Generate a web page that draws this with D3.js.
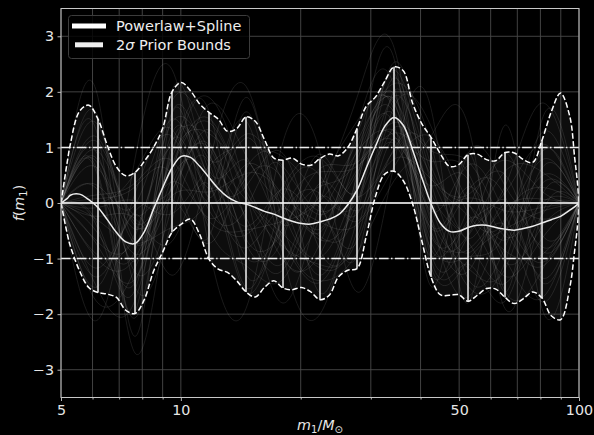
<!DOCTYPE html>
<html>
<head>
<meta charset="utf-8">
<script src="https://cdn.jsdelivr.net/npm/d3@7"></script>
<style>
  html, body { margin: 0; padding: 0; background: #000; }
  svg { display: block; }
  text { font-family: "DejaVu Sans", sans-serif; }
</style>
</head>
<body>
<svg id="chart" width="594" height="435"></svg>
<script>
// ---- data -------------------------------------------------------------
// Spline knots (primary mass, solar masses)
const knots = [5, 6.193, 7.671, 9.501, 11.768, 14.576, 18.054, 22.361, 27.696,
  34.305, 42.49, 52.63, 65.19, 80.74, 100];

// Evaluation grid for summary curves
const massGrid = [5.0, 5.2, 5.275, 5.565, 5.871, 6.193, 6.534, 6.892, 7.272, 7.671,
  8.093, 8.537, 9.007, 9.501, 10.024, 10.574, 11.156, 11.768, 12.415, 13.097,
  13.818, 14.576, 15.378, 16.222, 17.115, 18.054, 19.047, 20.092, 21.199, 22.361,
  23.591, 24.886, 26.256, 27.696, 29.219, 30.823, 32.521, 34.305, 36.192, 38.178,
  40.281, 42.49, 44.827, 47.287, 49.891, 52.63, 55.525, 58.572, 61.798, 65.19,
  68.775, 72.55, 76.546, 80.74, 85.181, 89.856, 94.805, 97.5, 99.0, 100];

// Median of the Powerlaw+Spline perturbation f(m1)
const medianF = [0, 0.09, 0.14, 0.16, 0.06, -0.08, -0.30, -0.53, -0.70, -0.73,
  -0.52, -0.11, 0.28, 0.63, 0.84, 0.82, 0.66, 0.46, 0.26, 0.11,
  0.02, -0.02, -0.08, -0.15, -0.20, -0.27, -0.33, -0.37, -0.38, -0.34,
  -0.29, -0.21, -0.03, 0.23, 0.63, 1.02, 1.38, 1.54, 1.40, 0.96,
  0.46, -0.01, -0.36, -0.51, -0.51, -0.44, -0.40, -0.40, -0.44, -0.47,
  -0.49, -0.46, -0.42, -0.36, -0.30, -0.24, -0.13, -0.07, -0.03, 0];

// 2-sigma prior bounds
const upperF = [0, 0.80, 1.05, 1.65, 1.76, 1.51, 1.04, 0.65, 0.49, 0.55,
  0.75, 1.00, 1.35, 2.00, 2.17, 2.02, 1.78, 1.63, 1.51, 1.29,
  1.34, 1.55, 1.47, 1.14, 0.81, 0.77, 0.81, 0.70, 0.68, 0.80,
  0.88, 0.85, 1.00, 1.34, 1.74, 1.91, 2.19, 2.45, 2.38, 1.80,
  1.43, 1.18, 0.89, 0.66, 0.69, 0.87, 0.88, 0.78, 0.76, 0.91,
  0.90, 0.78, 0.73, 1.13, 1.64, 1.98, 1.56, 0.82, 0.40, 0];

const lowerF = [0, -0.60, -0.77, -1.22, -1.52, -1.61, -1.64, -1.70, -1.93, -1.99,
  -1.74, -1.23, -0.88, -0.53, -0.38, -0.29, -0.57, -1.01, -1.19, -1.25,
  -1.40, -1.60, -1.69, -1.52, -1.40, -1.53, -1.56, -1.52, -1.60, -1.74,
  -1.66, -1.33, -1.21, -1.18, -0.60, 0.12, 0.52, 0.57, 0.40, -0.01,
  -0.68, -1.33, -1.65, -1.66, -1.65, -1.77, -1.66, -1.54, -1.55, -1.70,
  -1.81, -1.72, -1.60, -1.71, -2.03, -2.10, -1.52, -0.86, -0.45, 0];

// Individual spline draws: values at the interior knots (ends pinned to 0)
const draws = [
  [0.86, -1.05, 1.13, 0.26, 1.17, -0.15, -0.98, 0.48, 1.96, -0.39, 0.29, -0.60, 0.00],
  [-1.17, -0.15, 0.25, 1.32, -0.34, -1.20, 0.11, -0.33, 0.98, 0.87, -0.64, 0.05, -1.43],
  [0.15, 0.36, 0.76, -0.27, 0.45, 0.43, -0.47, 1.22, 1.68, -0.83, -0.11, 0.77, 0.21],
  [1.56, -1.50, -0.32, 0.72, -1.52, 0.08, 0.49, -0.20, 1.35, 0.12, -1.50, -1.06, 0.92],
  [-0.55, -0.86, 1.83, 1.12, 0.06, -0.73, -1.43, 0.29, 2.39, 0.56, -0.24, -1.32, -0.64],
  [0.62, -0.47, 0.06, -0.73, 0.61, 0.83, -0.02, -0.70, 1.16, -0.14, 0.68, -0.21, -1.07],
  [-1.56, -1.75, 0.95, 0.92, -0.97, -0.44, 0.30, 0.79, 1.82, -1.14, -1.03, -0.47, -0.15],
  [0.31, -0.03, 1.51, 0.06, -0.57, 0.31, 0.81, 0.11, 0.79, 0.43, 0.15, 0.51, -0.86],
  [-0.31, -0.73, -0.44, 0.13, 1.48, -0.91, -0.72, 0.97, 2.15, 1.06, -1.36, -0.80, 0.49],
  [1.17, -0.35, 0.69, 1.52, 0.22, -0.56, -1.17, -0.51, 1.54, -0.58, -0.37, 0.18, 1.06],
  [-0.78, -1.37, 0.44, 0.53, -0.42, 0.25, -0.21, 0.60, 1.12, 0.31, 0.42, -1.58, -1.21],
  [0.00, 0.55, 1.32, -0.46, -1.13, -1.37, 0.24, 1.47, 1.78, -0.26, -0.84, -0.08, 0.07],
  [0.70, -1.24, -0.06, 1.78, 0.85, -0.04, -0.60, -0.08, 2.53, 0.68, -0.04, -0.99, -1.71],
  [-0.94, -0.54, 1.01, -0.13, -0.10, 0.60, -1.62, 0.42, 1.40, -0.96, 0.88, 0.31, -0.29],
  [0.47, -1.95, 2.02, 0.59, 0.77, -0.39, -0.08, -0.95, 2.01, -0.01, -1.17, -1.19, 0.63],
  [-0.24, -0.28, -0.69, 0.33, -1.60, -0.21, 0.56, 0.66, 1.26, 0.49, -0.44, 0.90, -0.57],
  [1.40, -0.67, 0.82, 1.25, 0.38, -1.02, -0.92, 0.85, 1.63, -0.70, -0.97, -0.54, 1.27],
  [-1.33, 0.17, 1.20, 0.00, 0.69, 0.14, -0.34, -0.39, 0.65, 1.19, 0.02, -0.86, -0.93],
  [0.23, -0.92, 0.19, 1.05, -0.73, -0.62, 0.88, 0.23, 2.25, -0.20, -1.69, -0.27, 0.28],
  [-0.47, -1.56, 1.64, 0.79, 1.24, 0.37, -0.66, -0.02, 1.07, -0.45, 0.22, 0.12, -1.35],
  [0.93, -0.22, 0.38, -0.33, -0.49, -0.33, 0.04, 1.10, 1.87, 0.18, -0.70, -1.45, -0.22],
  [-1.80, -1.18, 0.63, 1.45, 0.14, -0.79, -1.11, -0.64, 1.73, 1.38, -0.18, -0.34, 0.78],
  [-0.08, 0.04, -0.19, 0.66, 1.01, 0.66, -0.15, 0.54, 1.30, -0.33, -1.23, -0.01, -0.79],
  [0.54, -2.07, 1.07, 0.39, -0.81, -0.10, -0.53, 1.35, 2.10, -1.27, -0.31, -0.67, 0.35],
  [-0.70, -0.60, 1.45, 0.86, -0.26, -1.08, 0.36, -0.14, 0.93, 0.75, 0.55, -1.06, -0.43],
  [1.09, -0.41, 0.13, 0.20, 0.53, 0.02, -1.30, 0.35, 1.59, -0.51, -0.57, 0.57, 0.56],
  [-1.02, -0.99, 0.88, 1.65, -1.28, -0.27, 0.17, 0.04, 1.92, 0.37, -0.90, -0.40, -1.78],
  [0.08, 0.29, 0.50, -0.60, 1.64, -0.68, -0.28, 0.91, 1.21, 0.05, 0.09, -0.14, -0.08],
  [-0.39, -1.43, 1.26, 0.46, 0.30, 0.89, -0.85, -0.27, 2.34, -1.02, -1.10, -1.77, 0.14],
  [0.78, -0.73, 0.31, 0.99, -0.65, -0.50, 0.62, 0.73, 1.45, 0.94, 0.75, -0.47, -1.14],
  [1.90, -2.40, 1.60, 0.10, 1.90, -0.90, -2.00, 0.60, 2.60, -1.50, 0.90, -1.60, 1.50],
  [-2.10, 0.80, 2.40, -0.80, -1.90, 1.10, 0.90, -1.60, 0.70, 1.70, -1.80, 1.40, -1.90],
  [1.20, -2.70, 0.40, 1.90, 0.20, -1.80, 0.00, 1.90, 2.80, -0.90, -0.60, 0.30, 1.80],
  [-1.50, -0.20, -1.30, 0.70, 2.10, -0.40, -1.40, -0.90, 0.40, 1.20, 1.40, -1.90, -0.20]
];

// Axis ticks
const xMajorTicks = [5, 10, 50, 100];
const xMinorTicks = [6, 7, 8, 9, 20, 30, 40, 60, 70, 80, 90];
const yTicks = [-3, -2, -1, 0, 1, 2, 3];
const dashDotLevels = [-1, 1];

const legendLabels = ["Powerlaw+Spline", "2σ Prior Bounds"];

// ---- layout -----------------------------------------------------------
const W = 594, H = 435;
const margin = { left: 61, right: 15, top: 8.5, bottom: 37.5 };
const x0 = margin.left, x1 = W - margin.right;
const y0 = margin.top, y1 = H - margin.bottom;

const x = d3.scaleLog().domain([5, 100]).range([x0, x1]);
const y = d3.scaleLinear().domain([-3.5, 3.5]).range([y1, y0]);

const svg = d3.select("#chart");
svg.append("rect").attr("width", W).attr("height", H).attr("fill", "#000");

svg.append("defs").append("clipPath").attr("id", "plot-clip")
  .append("rect").attr("x", x0).attr("y", y0).attr("width", x1 - x0).attr("height", y1 - y0);

// Grid
const grid = svg.append("g").attr("stroke", "#4a4a4a").attr("stroke-width", 0.9);
[...xMajorTicks, ...xMinorTicks].forEach(t => {
  grid.append("line").attr("x1", x(t)).attr("x2", x(t)).attr("y1", y0).attr("y2", y1);
});
yTicks.forEach(t => {
  grid.append("line").attr("x1", x0).attr("x2", x1).attr("y1", y(t)).attr("y2", y(t));
});

const plot = svg.append("g").attr("clip-path", "url(#plot-clip)");

const gridPts = arr => massGrid.map((m, i) => [m, arr[i]]);
const upperPts = gridPts(upperF);
const lowerPts = gridPts(lowerF);
const medianPts = gridPts(medianF);

// Faint haze between the bounds
const band = d3.area()
  .x((d, i) => x(massGrid[i]))
  .y0((d, i) => y(lowerF[i]))
  .y1((d, i) => y(upperF[i]))
  .curve(d3.curveCatmullRom);
plot.append("path").datum(massGrid).attr("d", band)
  .attr("fill", "#fff").attr("fill-opacity", 0.05);

// Spline draws
const drawLine = d3.line().x(d => x(d[0])).y(d => y(d[1])).curve(d3.curveNatural);
plot.append("g").selectAll("path").data(draws).join("path")
  .attr("d", v => drawLine(knots.map((k, i) => [k, i === 0 || i === knots.length - 1 ? 0 : v[i - 1]])))
  .attr("fill", "none").attr("stroke", "#fff").attr("stroke-opacity", 0.13).attr("stroke-width", 0.8);

// Reference levels
plot.append("line").attr("x1", x0).attr("x2", x1).attr("y1", y(0)).attr("y2", y(0))
  .attr("stroke", "#fff").attr("stroke-width", 1.5);
dashDotLevels.forEach(v => {
  plot.append("line").attr("x1", x0).attr("x2", x1).attr("y1", y(v)).attr("y2", y(v))
    .attr("stroke", "#eee").attr("stroke-width", 1.5)
    .attr("stroke-dasharray", "9.6,2.4,1.5,2.4");
});

// Bounds
const curveLine = d3.line().x(d => x(d[0])).y(d => y(d[1])).curve(d3.curveCatmullRom);
[upperPts, lowerPts].forEach(pts => {
  plot.append("path").attr("d", curveLine(pts))
    .attr("fill", "none").attr("stroke", "#fff").attr("stroke-width", 1.5)
    .attr("stroke-dasharray", "5.5,2.4");
});

// Knot prior ranges
const valueAt = (pts, m) => pts.find(p => Math.abs(p[0] - m) < 0.01)[1];
knots.forEach(k => {
  plot.append("line").attr("x1", x(k)).attr("x2", x(k))
    .attr("y1", y(valueAt(lowerPts, k))).attr("y2", y(valueAt(upperPts, k)))
    .attr("stroke", "#f2f2f2").attr("stroke-width", 1.5);
});

// Median
plot.append("path").attr("d", curveLine(medianPts))
  .attr("fill", "none").attr("stroke", "#ececec").attr("stroke-width", 1.5);

// Spines
svg.append("rect").attr("x", x0).attr("y", y0).attr("width", x1 - x0).attr("height", y1 - y0)
  .attr("fill", "none").attr("stroke", "#c8c8c8").attr("stroke-width", 1);

// Axes
const fontSize = 14.3;
const xAxis = svg.append("g").attr("transform", `translate(0,${y1})`)
  .call(d3.axisBottom(x).tickValues(xMajorTicks).tickFormat(d3.format("d")).tickSize(3.5).tickPadding(3.5));
const xMinor = svg.append("g").attr("transform", `translate(0,${y1})`)
  .call(d3.axisBottom(x).tickValues(xMinorTicks).tickFormat("").tickSize(2));
const yAxis = svg.append("g").attr("transform", `translate(${x0},0)`)
  .call(d3.axisLeft(y).tickValues(yTicks).tickFormat(d3.format("d")).tickSize(3.5).tickPadding(3.5));
[xAxis, xMinor, yAxis].forEach(g => {
  g.select(".domain").remove();
  g.selectAll(".tick line").attr("stroke", "#c8c8c8").attr("stroke-width", 0.9);
  g.selectAll(".tick text").attr("fill", "#e6e6e6")
    .attr("font-size", fontSize).attr("font-family", "DejaVu Sans");
});

// Axis labels
const xl = svg.append("text").attr("x", (x0 + x1) / 2).attr("y", 429.5)
  .attr("text-anchor", "middle").attr("fill", "#e6e6e6").attr("font-size", fontSize);
xl.append("tspan").attr("font-style", "italic").text("m");
xl.append("tspan").attr("font-size", fontSize * 0.7).attr("dy", 3).text("1");
xl.append("tspan").attr("dy", -3).text("/");
xl.append("tspan").attr("font-style", "italic").text("M");
xl.append("tspan").attr("font-size", fontSize * 0.7).attr("dy", 3).text("⊙");

const yl = svg.append("text").attr("transform", `translate(24,${(y0 + y1) / 2}) rotate(-90)`)
  .attr("text-anchor", "middle").attr("fill", "#e6e6e6").attr("font-size", fontSize);
yl.append("tspan").attr("font-style", "italic").text("f");
yl.append("tspan").text("(");
yl.append("tspan").attr("font-style", "italic").text("m");
yl.append("tspan").attr("font-size", fontSize * 0.7).attr("dy", 3).text("1");
yl.append("tspan").attr("dy", -3).text(")");

// Legend
const lg = svg.append("g");
lg.append("rect").attr("x", 68.5).attr("y", 15.5).attr("width", 181).attr("height", 43).attr("rx", 3)
  .attr("fill", "#000").attr("fill-opacity", 0.82).attr("stroke", "#3c3c3c").attr("stroke-width", 1);
lg.append("line").attr("x1", 72).attr("x2", 106).attr("y1", 26).attr("y2", 26)
  .attr("stroke", "#fff").attr("stroke-width", 5);
lg.append("line").attr("x1", 75).attr("x2", 103).attr("y1", 44.8).attr("y2", 44.8)
  .attr("stroke", "#eee").attr("stroke-width", 5);
lg.append("text").attr("x", 116).attr("y", 30.8).attr("fill", "#eee").attr("font-size", 14.5)
  .text(legendLabels[0]);
const t2 = lg.append("text").attr("x", 116).attr("y", 49.5).attr("fill", "#eee").attr("font-size", 14.5);
t2.append("tspan").text("2");
t2.append("tspan").attr("font-style", "italic").text("σ");
t2.append("tspan").text(legendLabels[1].slice(2));
</script>
</body>
</html>
